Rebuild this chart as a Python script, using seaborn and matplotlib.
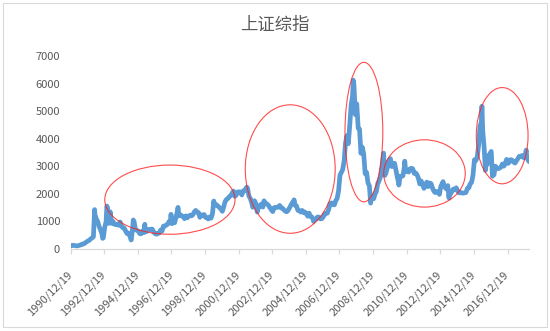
import numpy as np
import pandas as pd
import matplotlib
matplotlib.use("Agg")
import matplotlib.pyplot as plt
import matplotlib.dates as mdates
from matplotlib.patches import Ellipse, Rectangle
from matplotlib.transforms import ScaledTranslation
import seaborn as sns

# ---------------- data ----------------
title = "上证综指"

# month-end closes, Dec 1990 .. Mar 2018
monthly_close = (
    [127]
    + [129, 134, 120, 113, 115, 137, 146, 180, 180, 218, 259, 292]            # 1991
    + [313, 365, 400, 445, 1266, 1100, 1000, 820, 700, 560, 400, 780]         # 1992
    + [1000, 1500, 930, 1350, 930, 1000, 900, 880, 890, 860, 980, 833]        # 1993
    + [770, 760, 650, 560, 580, 470, 333, 760, 1000, 700, 680, 648]           # 1994
    + [560, 550, 650, 590, 700, 630, 710, 700, 720, 720, 620, 555]            # 1995
    + [537, 560, 580, 690, 650, 830, 830, 870, 900, 1000, 1000, 917]          # 1996
    + [970, 950, 1150, 1380, 1200, 1250, 1200, 1180, 1100, 1200, 1130, 1190]  # 1997
    + [1230, 1200, 1240, 1340, 1400, 1340, 1320, 1150, 1240, 1220, 1250, 1146]  # 1998
    + [1130, 1090, 1160, 1120, 1280, 1690, 1600, 1600, 1550, 1500, 1450, 1366]  # 1999
    + [1530, 1715, 1800, 1830, 1900, 1930, 2020, 2100, 1910, 1960, 2070, 2073]  # 2000
    + [2065, 1960, 2110, 2120, 2210, 2218, 1920, 1830, 1680, 1690, 1750, 1646]  # 2001
    + [1490, 1490, 1580, 1630, 1520, 1730, 1650, 1630, 1580, 1500, 1420, 1357]  # 2002
    + [1500, 1510, 1510, 1520, 1580, 1490, 1480, 1420, 1370, 1350, 1400, 1497]  # 2003
    + [1590, 1675, 1740, 1590, 1555, 1400, 1390, 1340, 1400, 1320, 1340, 1266]  # 2004
    + [1190, 1300, 1180, 1160, 1060, 1080, 1083, 1162, 1155, 1092, 1099, 1161]  # 2005
    + [1258, 1299, 1298, 1440, 1641, 1672, 1612, 1601, 1752, 1837, 2099, 2675]  # 2006
    + [2786, 2881, 3183, 3841, 4109, 3820, 4471, 5218, 5552, 5954, 4871, 5262]  # 2007
    + [4383, 4348, 3472, 3693, 3433, 2736, 2776, 2397, 2293, 1729, 1871, 1821]  # 2008
    + [1991, 2082, 2373, 2477, 2633, 2959, 3412, 2668, 2779, 2996, 3195, 3277]  # 2009
    + [2989, 3051, 3110, 2870, 2592, 2398, 2638, 2638, 2656, 2979, 2820, 2808]  # 2010
    + [2790, 2905, 2928, 2911, 2743, 2762, 2701, 2568, 2359, 2468, 2333, 2199]  # 2011
    + [2292, 2428, 2262, 2396, 2372, 2225, 2103, 2047, 2086, 2069, 1980, 2269]  # 2012
    + [2385, 2365, 2237, 2178, 2300, 1979, 1994, 2098, 2175, 2141, 2220, 2116]  # 2013
    + [2033, 2056, 2033, 2026, 2039, 2048, 2202, 2217, 2364, 2420, 2683, 3235]  # 2014
    + [3210, 3310, 3748, 4442, 4612, 4277, 3664, 3206, 3053, 3383, 3445, 3539]  # 2015
    + [2738, 2688, 3004, 2938, 2917, 2930, 2979, 3085, 3005, 3100, 3250, 3104]  # 2016
    + [3159, 3242, 3223, 3155, 3117, 3192, 3273, 3361, 3349, 3393, 3317, 3307]  # 2017
    + [3481, 3259, 3169]                                                      # 2018
)
monthly_start = "1990-12-31"

# intra-month highs / lows
extreme_dates = ["1990-12-19", "1992-05-26", "1992-11-17", "1993-02-16", "1994-07-29",
                 "1994-09-13", "1995-05-22", "1996-12-11", "1997-05-12", "1999-06-29",
                 "2001-06-14", "2001-10-22", "2002-01-29", "2002-06-25", "2004-04-07",
                 "2005-06-06", "2007-10-16", "2008-10-28", "2009-08-04", "2010-07-02",
                 "2010-11-08", "2013-02-18", "2013-06-27", "2015-06-12", "2015-08-26",
                 "2016-01-27", "2018-01-29"]
extreme_values = [100, 1429, 386, 1558, 325,
                  1052, 897, 1258, 1510, 1739,
                  2245, 1514, 1339, 1748, 1783,
                  998, 6124, 1664, 3478, 2319,
                  3186, 2444, 1849, 5178, 2850,
                  2638, 3587]

tick_dates = ["1990-12-19", "1992-12-19", "1994-12-19", "1996-12-19", "1998-12-19",
              "2000-12-19", "2002-12-19", "2004-12-19", "2006-12-19", "2008-12-19",
              "2010-12-19", "2012-12-19", "2014-12-19", "2016-12-19"]
tick_labels = ["1990/12/19", "1992/12/19", "1994/12/19", "1996/12/19", "1998/12/19",
               "2000/12/19", "2002/12/19", "2004/12/19", "2006/12/19", "2008/12/19",
               "2010/12/19", "2012/12/19", "2014/12/19", "2016/12/19"]
y_ticks = [0, 1000, 2000, 3000, 4000, 5000, 6000, 7000]

# red highlight ellipses: centre date, centre value, width (years), height (index points)
circle_centers = ["1996-11-17", "2004-01-15", "2008-06-03", "2012-01-11", "2016-08-25"]
circle_values = [1790, 2900, 4240, 2740, 4110]
circle_widths_years = [7.75, 5.35, 2.25, 4.85, 3.08]
circle_heights = [2510, 4660, 5060, 2440, 3490]

# ---------------- frame ----------------
monthly = pd.DataFrame({"date": pd.date_range(monthly_start, periods=len(monthly_close), freq="ME"),
                        "value": monthly_close})
extra = pd.DataFrame({"date": pd.to_datetime(extreme_dates), "value": extreme_values})
df = pd.concat([monthly, extra]).sort_values("date").reset_index(drop=True)

sns.set_theme(style="white")
plt.rcParams["font.family"] = ["Noto Sans CJK SC", "DejaVu Sans"]

fig = plt.figure(figsize=(5.5, 3.31), dpi=100)
ax = fig.add_axes([70.5 / 550, 1 - 249 / 331, (529 - 70.5) / 550, (249 - 56) / 331])

sns.lineplot(data=df, x="date", y="value", ax=ax, color="#5B9BD5", linewidth=3.4,
             sort=True, estimator=None)

for c, v, w, h in zip(circle_centers, circle_values, circle_widths_years, circle_heights):
    e = Ellipse((mdates.date2num(pd.Timestamp(c)), v), w * 365.25, h,
                fill=False, edgecolor="#FF2020", linewidth=0.8, alpha=0.8, zorder=5)
    ax.add_patch(e)

ax.set_xlim(pd.Timestamp("1990-12-19"), pd.Timestamp("2018-03-31"))
ax.set_ylim(0, 7000)
ax.set_yticks(y_ticks)
ax.set_yticklabels([str(v) for v in y_ticks])
ax.set_xticks([pd.Timestamp(d) for d in tick_dates])
ax.set_xticklabels(tick_labels, rotation=45, ha="right", va="center", rotation_mode="anchor")
ax.set_xlabel("")
ax.set_ylabel("")

offset = ScaledTranslation(4 / 100, 0, fig.dpi_scale_trans)
for lab in ax.get_xticklabels():
    lab.set_transform(lab.get_transform() + offset)

for s in ["top", "right", "left"]:
    ax.spines[s].set_visible(False)
ax.spines["bottom"].set_color("#D9D9D9")
ax.spines["bottom"].set_linewidth(0.9)
ax.tick_params(axis="x", which="major", bottom=True, length=3.5, width=0.9, color="#D9D9D9",
               labelsize=8, labelcolor="#595959", pad=14)
ax.tick_params(axis="y", length=0, labelsize=8, labelcolor="#595959", pad=7.5)
ax.grid(False)

fig.text(0.5, 1 - 25 / 331, title, ha="center", va="center", fontsize=12.5,
         color="#595959")

fig.patches.append(Rectangle((3 / 550, 1 - 327 / 331), 544 / 550, 324 / 331,
                             transform=fig.transFigure, fill=False,
                             edgecolor="#D9D9D9", linewidth=0.8))

fig.savefig("out.png", dpi=100)
